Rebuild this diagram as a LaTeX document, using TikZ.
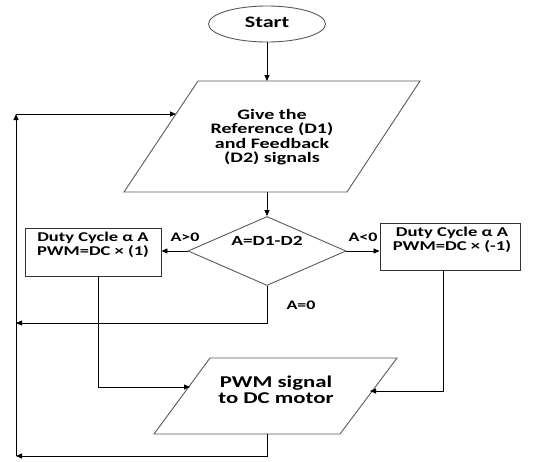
\documentclass[tikz,border=0pt]{standalone}
\usepackage{fontspec}
\setmainfont{Carlito}
\usetikzlibrary{shapes.geometric,arrows.meta}
\newcommand\sxtext[1]{\scalebox{1.38}[1]{\begin{tabular}{@{}c@{}}#1\end{tabular}}}
\begin{document}
\begin{tikzpicture}[x=1pt,y=-1pt,
  shp/.style={draw=black!65,line width=0.9pt},
  arr/.style={draw=black,line width=0.8pt,-{Triangle[length=6pt,width=5pt]}},
  txt/.style={font=\bfseries\fontsize{14}{13.2}\selectfont,align=center,inner sep=0pt},
  lbl/.style={font=\bfseries\fontsize{13}{13}\selectfont,inner sep=0pt}]
\useasboundingbox (0,0) rectangle (554,461);
% Start
\node[shp,ellipse,minimum width=117pt,minimum height=36pt,inner sep=0pt,font=\bfseries\fontsize{16}{16}\selectfont] (start) at (267,24) {\sxtext{Start}};
% input parallelogram
\draw[shp] (198,81) -- (420,81) -- (347,192) -- (124,192) -- cycle;
\node[txt,font=\bfseries\fontsize{14.5}{13.4}\selectfont] (inp) at (272,138) {\sxtext{Give the\\Reference (D1)\\and Feedback\\(D2) signals}};
\coordinate (inpT) at (267,81);
\coordinate (inpB) at (267,192);
\coordinate (inpL) at (176,114);
% diamond
\node[shp,diamond,minimum width=158pt,minimum height=69pt,inner sep=0pt] (dec) at (267,251) {};
\node[txt] (dect) at (267,243) {\sxtext{A=D1-D2}};
% left box
\node[shp,draw=black!80,minimum width=136pt,minimum height=48pt,inner sep=0pt] (lb) at (93,252) {};
\node[txt,font=\bfseries\fontsize{13.4}{13}\selectfont] (lbt) at (93,246) {\sxtext{Duty Cycle α A\\PWM=DC × (1)}};
% right box
\node[shp,draw=black!80,minimum width=140pt,minimum height=47pt,inner sep=0pt] (rb) at (450,246.5) {};
\node[txt,font=\bfseries\fontsize{13.5}{13}\selectfont] (rbt) at (452,241) {\sxtext{Duty Cycle α A\\PWM=DC × (-1)}};
% PWM parallelogram
\draw[shp] (210,358) -- (397,358) -- (340,434) -- (154,434) -- cycle;
\node[txt,font=\bfseries\fontsize{16.5}{15}\selectfont] (pwm) at (276,392) {\sxtext{PWM signal\\to DC motor}};
\coordinate (pwmB) at (267,434);
\coordinate (pwmL) at (190,387);
\coordinate (pwmR) at (370,391);
% loop coordinates
\coordinate (c1) at (16,114);
\coordinate (c2) at (16,456);
\coordinate (c3) at (267,456);
\coordinate (c4) at (267,323);
\coordinate (c5) at (16,323);
\coordinate (c6) at (98,387);
\coordinate (c7) at (443,391);
% connectors
\draw[arr] (start.south) -- (inpT);
\draw[arr] (inpB) -- (dec.north);
\draw[arr] (dec.west) -- (lb.east |- dec.west);
\draw[arr] (dec.east) -- (rb.west |- dec.east);
\draw[arr] (dec.south) -- (c4) -- (c5);
\draw[arr] (lb.south -| c6) -- (c6) -- (pwmL);
\draw[arr] (rb.south -| c7) -- (c7) -- (pwmR);
\draw[arr] (pwmB) -- (c3) -- (c2);
\draw[arr] (c2) -- (c1);
\draw[arr] (c1) -- (inpL);
% labels
\node[lbl] (l1) at (185,239) {\sxtext{A>0}};
\node[lbl] (l2) at (363,239) {\sxtext{A<0}};
\node[lbl] (l3) at (301,307) {\sxtext{A=0}};
\end{tikzpicture}
\end{document}
